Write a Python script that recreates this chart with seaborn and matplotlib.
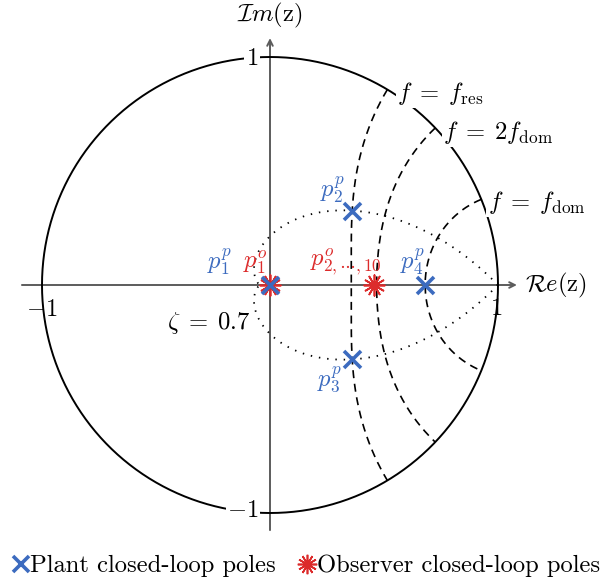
import numpy as np
import pandas as pd
import matplotlib
matplotlib.use("Agg")
import matplotlib.pyplot as plt
from matplotlib.lines import Line2D
import seaborn as sns

# Closed-loop pole locations in the z-plane
plant_re = [0.0, 0.36, 0.36, 0.68]
plant_im = [0.0, 0.325, -0.325, 0.0]
observer_re = [0.0, 0.456]
observer_im = [0.0, 0.0]

# Normalised natural frequencies (omega_n * T) of the grid curves
grid_wn = [1.03, 0.76, 0.385]
grid_labels = [r"$f\;=\;f_{\mathrm{res}}$", r"$f\;=\;2f_{\mathrm{dom}}$", r"$f\;=\;f_{\mathrm{dom}}$"]
zeta_value = 0.7

BLUE = "#3c6bbf"
RED = "#dc2b2b"
AXIS_GREY = "#5c5c5c"

sns.set_style("white")
plt.rcParams["mathtext.fontset"] = "cm"
plt.rcParams["font.family"] = ["cmr10", "DejaVu Serif"]
plt.rcParams["axes.unicode_minus"] = False
plt.rcParams["text.color"] = "black"

fig = plt.figure(figsize=(6.12, 5.83), dpi=100)
ax = fig.add_axes([0, 0, 1, 1])
ax.set_xlim(-270 / 228, 342 / 228)
ax.set_ylim(-298 / 228, 285 / 228)
ax.set_aspect("equal")
ax.axis("off")

# Unit circle
theta = np.linspace(0, 2 * np.pi, 721)
ax.plot(np.cos(theta), np.sin(theta), color="black", lw=1.4, zorder=2)

# Real and imaginary axes with arrow heads
arrow = dict(arrowstyle="->", color=AXIS_GREY, lw=1.4, shrinkA=0, shrinkB=0)
ax.annotate("", xy=(1.083, 0), xytext=(-1.088, 0), arrowprops=arrow, zorder=1)
ax.annotate("", xy=(0, 1.083), xytext=(0, -1.075), arrowprops=arrow, zorder=1)

# Constant natural-frequency curves (zeta from 0 to 1)
zeta = np.linspace(0, 1, 200)
for wn in grid_wn:
    s = wn * (-zeta + 1j * np.sqrt(1 - zeta ** 2))
    z = np.exp(s)
    xs = np.concatenate([z.real, z.real[::-1]])
    ys = np.concatenate([z.imag, -z.imag[::-1]])
    ax.plot(xs, ys, color="black", lw=1.2, dashes=(4.8, 3.4), zorder=2)

# Constant damping curve
wn_line = np.linspace(0, np.pi / np.sqrt(1 - zeta_value ** 2), 400)
zc = np.exp(wn_line * (-zeta_value + 1j * np.sqrt(1 - zeta_value ** 2)))
ax.plot(zc.real, zc.imag, color="black", lw=1.3, dashes=(0.8, 3.8), zorder=2)
ax.plot(zc.real, -zc.imag, color="black", lw=1.3, dashes=(0.8, 3.8), zorder=2)

# Poles
sns.scatterplot(x=observer_re, y=observer_im, ax=ax, marker=(12, 2, 0), s=220,
                color=RED, edgecolor=RED, linewidth=1.25, zorder=4, legend=False)
sns.scatterplot(x=plant_re, y=plant_im, ax=ax, marker="x", s=150,
                color=BLUE, linewidth=2.6, zorder=5, legend=False)

fs = 17.7
wbox = dict(facecolor="white", edgecolor="none", pad=1.0)

# Grid curve labels
label_pos = [(0.557, 0.842), (0.759, 0.671), (0.956, 0.364)]
for (lx, ly), txt in zip(label_pos, grid_labels):
    ax.text(lx, ly, txt, fontsize=fs, ha="left", va="center", bbox=wbox, zorder=3)
ax.text(-0.088, -0.167, r"$\zeta\;=\;0.7$", fontsize=fs, ha="right", va="center",
        bbox=wbox, zorder=3)

# Pole labels
ax.text(-0.219, 0.101, r"$p_1^p$", color=BLUE, fontsize=fs, ha="center", va="center", zorder=6)
ax.text(-0.066, 0.101, r"$p_1^o$", color=RED, fontsize=fs, ha="center", va="center", zorder=6)
ax.text(0.333, 0.101, r"$p_{2,\cdots,10}^o$", color=RED, fontsize=fs, ha="center", va="center", zorder=6)
ax.text(0.627, 0.101, r"$p_4^p$", color=BLUE, fontsize=fs, ha="center", va="center", zorder=6)
ax.text(0.276, 0.417, r"$p_2^p$", color=BLUE, fontsize=fs, ha="center", va="center", zorder=6)
ax.text(0.263, -0.417, r"$p_3^p$", color=BLUE, fontsize=fs, ha="center", va="center", zorder=6)

# Axis labels and tick values
ax.text(0, 1.184, r"$\mathcal{I}m(\mathrm{z})$", fontsize=fs, ha="center", va="center")
ax.text(1.118, 0.0, r"$\mathcal{R}e(\mathrm{z})$", fontsize=fs, ha="left", va="center")
ax.text(-1.0, -0.108, r"$-1$", fontsize=fs, ha="center", va="center")
ax.text(0.99, -0.105, r"$1$", fontsize=fs, ha="center", va="center")
ax.text(-0.079, 0.992, r"$1$", fontsize=fs, ha="center", va="center", bbox=wbox, zorder=3)
ax.text(-0.118, -0.991, r"$-1$", fontsize=fs, ha="center", va="center", bbox=wbox, zorder=3)

# Legend
handles = [
    Line2D([], [], ls="none", marker="x", color=BLUE, markersize=11, markeredgewidth=2.6,
           label="Plant closed-loop poles"),
    Line2D([], [], ls="none", marker=(12, 2, 0), color=RED, markersize=14, markeredgewidth=1.2,
           label="Observer closed-loop poles"),
]
fig.legend(handles=handles, loc="center", bbox_to_anchor=(0.5, 1 - 566 / 583), ncol=2,
           frameon=False, fontsize=fs, handlelength=0.7, handletextpad=0.05,
           columnspacing=0.9, borderpad=0)

fig.savefig("out.png", dpi=100)
